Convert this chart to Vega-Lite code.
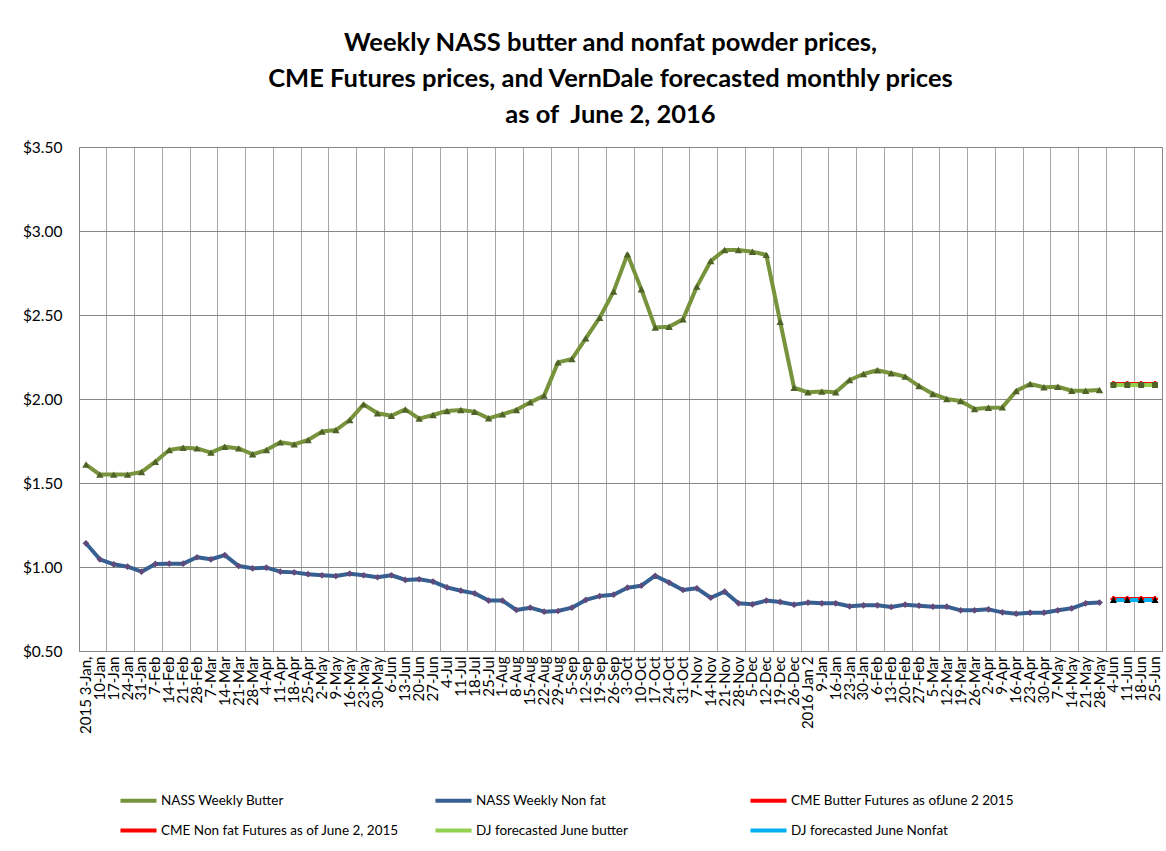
{
  "$schema": "https://vega.github.io/schema/vega-lite/v6.json",
  "width": 1083,
  "height": 504,
  "autosize": {"type": "none"},
  "padding": {"left": 79, "top": 147, "right": 4, "bottom": 200},
  "background": "white",
  "title": {
    "text": ["Weekly NASS butter and nonfat powder prices,", "CME Futures prices, and VernDale forecasted monthly prices", "as of\u00a0 June 2, 2016"],
    "font": "Lato", "fontSize": 25.5, "fontWeight": "bold", "lineHeight": 36, "color": "black", "anchor": "middle", "offset": 12, "dx": -10
  },
  "data": {"values": [
    {"week": "2015 3-Jan,", "NASS Weekly Butter": 1.61, "NASS Weekly Non fat": 1.141},
    {"week": "10-Jan", "NASS Weekly Butter": 1.55, "NASS Weekly Non fat": 1.046},
    {"week": "17-Jan", "NASS Weekly Butter": 1.55, "NASS Weekly Non fat": 1.016},
    {"week": "24-Jan", "NASS Weekly Butter": 1.55, "NASS Weekly Non fat": 1.002},
    {"week": "31-Jan", "NASS Weekly Butter": 1.565, "NASS Weekly Non fat": 0.972},
    {"week": "7-Feb", "NASS Weekly Butter": 1.627, "NASS Weekly Non fat": 1.018},
    {"week": "14-Feb", "NASS Weekly Butter": 1.696, "NASS Weekly Non fat": 1.02},
    {"week": "21-Feb", "NASS Weekly Butter": 1.71, "NASS Weekly Non fat": 1.02},
    {"week": "28-Feb", "NASS Weekly Butter": 1.706, "NASS Weekly Non fat": 1.058},
    {"week": "7-Mar", "NASS Weekly Butter": 1.681, "NASS Weekly Non fat": 1.046},
    {"week": "14-Mar", "NASS Weekly Butter": 1.716, "NASS Weekly Non fat": 1.071},
    {"week": "21-Mar", "NASS Weekly Butter": 1.706, "NASS Weekly Non fat": 1.006},
    {"week": "28-Mar", "NASS Weekly Butter": 1.671, "NASS Weekly Non fat": 0.992},
    {"week": "4-Apr", "NASS Weekly Butter": 1.696, "NASS Weekly Non fat": 0.996},
    {"week": "11-Apr", "NASS Weekly Butter": 1.742, "NASS Weekly Non fat": 0.972},
    {"week": "18-Apr", "NASS Weekly Butter": 1.73, "NASS Weekly Non fat": 0.968},
    {"week": "25-Apr", "NASS Weekly Butter": 1.756, "NASS Weekly Non fat": 0.957},
    {"week": "2-May", "NASS Weekly Butter": 1.806, "NASS Weekly Non fat": 0.951},
    {"week": "9-May", "NASS Weekly Butter": 1.815, "NASS Weekly Non fat": 0.946},
    {"week": "16-May", "NASS Weekly Butter": 1.875, "NASS Weekly Non fat": 0.96},
    {"week": "23-May", "NASS Weekly Butter": 1.968, "NASS Weekly Non fat": 0.951},
    {"week": "30-May", "NASS Weekly Butter": 1.915, "NASS Weekly Non fat": 0.939},
    {"week": "6-Jun", "NASS Weekly Butter": 1.9, "NASS Weekly Non fat": 0.951},
    {"week": "13-Jun", "NASS Weekly Butter": 1.938, "NASS Weekly Non fat": 0.923},
    {"week": "20-Jun", "NASS Weekly Butter": 1.883, "NASS Weekly Non fat": 0.927},
    {"week": "27-Jun", "NASS Weekly Butter": 1.905, "NASS Weekly Non fat": 0.913},
    {"week": "4-Jul", "NASS Weekly Butter": 1.929, "NASS Weekly Non fat": 0.879},
    {"week": "11-Jul", "NASS Weekly Butter": 1.935, "NASS Weekly Non fat": 0.859},
    {"week": "18-Jul", "NASS Weekly Butter": 1.924, "NASS Weekly Non fat": 0.843},
    {"week": "25-Jul", "NASS Weekly Butter": 1.885, "NASS Weekly Non fat": 0.8},
    {"week": "1-Aug", "NASS Weekly Butter": 1.909, "NASS Weekly Non fat": 0.8},
    {"week": "8-Aug", "NASS Weekly Butter": 1.935, "NASS Weekly Non fat": 0.744},
    {"week": "15-Aug", "NASS Weekly Butter": 1.98, "NASS Weekly Non fat": 0.758},
    {"week": "22-Aug", "NASS Weekly Butter": 2.02, "NASS Weekly Non fat": 0.734},
    {"week": "29-Aug", "NASS Weekly Butter": 2.218, "NASS Weekly Non fat": 0.738},
    {"week": "5-Sep", "NASS Weekly Butter": 2.238, "NASS Weekly Non fat": 0.758},
    {"week": "12-Sep", "NASS Weekly Butter": 2.361, "NASS Weekly Non fat": 0.804},
    {"week": "19-Sep", "NASS Weekly Butter": 2.484, "NASS Weekly Non fat": 0.827},
    {"week": "26-Sep", "NASS Weekly Butter": 2.639, "NASS Weekly Non fat": 0.835},
    {"week": "3-Oct", "NASS Weekly Butter": 2.861, "NASS Weekly Non fat": 0.877},
    {"week": "10-Oct", "NASS Weekly Butter": 2.653, "NASS Weekly Non fat": 0.889},
    {"week": "17-Oct", "NASS Weekly Butter": 2.425, "NASS Weekly Non fat": 0.948},
    {"week": "24-Oct", "NASS Weekly Butter": 2.43, "NASS Weekly Non fat": 0.907},
    {"week": "31-Oct", "NASS Weekly Butter": 2.474, "NASS Weekly Non fat": 0.863},
    {"week": "7-Nov", "NASS Weekly Butter": 2.669, "NASS Weekly Non fat": 0.873},
    {"week": "14-Nov", "NASS Weekly Butter": 2.821, "NASS Weekly Non fat": 0.817},
    {"week": "21-Nov", "NASS Weekly Butter": 2.887, "NASS Weekly Non fat": 0.853},
    {"week": "28-Nov", "NASS Weekly Butter": 2.887, "NASS Weekly Non fat": 0.784},
    {"week": "5-Dec", "NASS Weekly Butter": 2.877, "NASS Weekly Non fat": 0.778},
    {"week": "12-Dec", "NASS Weekly Butter": 2.858, "NASS Weekly Non fat": 0.8},
    {"week": "19-Dec", "NASS Weekly Butter": 2.46, "NASS Weekly Non fat": 0.792},
    {"week": "26-Dec", "NASS Weekly Butter": 2.067, "NASS Weekly Non fat": 0.776},
    {"week": "2016 Jan 2", "NASS Weekly Butter": 2.04, "NASS Weekly Non fat": 0.788},
    {"week": "9-Jan", "NASS Weekly Butter": 2.044, "NASS Weekly Non fat": 0.784},
    {"week": "16-Jan", "NASS Weekly Butter": 2.04, "NASS Weekly Non fat": 0.784},
    {"week": "23-Jan", "NASS Weekly Butter": 2.113, "NASS Weekly Non fat": 0.766},
    {"week": "30-Jan", "NASS Weekly Butter": 2.149, "NASS Weekly Non fat": 0.772},
    {"week": "6-Feb", "NASS Weekly Butter": 2.171, "NASS Weekly Non fat": 0.772},
    {"week": "13-Feb", "NASS Weekly Butter": 2.153, "NASS Weekly Non fat": 0.762},
    {"week": "20-Feb", "NASS Weekly Butter": 2.133, "NASS Weekly Non fat": 0.776},
    {"week": "27-Feb", "NASS Weekly Butter": 2.077, "NASS Weekly Non fat": 0.77},
    {"week": "5-Mar", "NASS Weekly Butter": 2.03, "NASS Weekly Non fat": 0.764},
    {"week": "12-Mar", "NASS Weekly Butter": 2.0, "NASS Weekly Non fat": 0.764},
    {"week": "19-Mar", "NASS Weekly Butter": 1.988, "NASS Weekly Non fat": 0.742},
    {"week": "26-Mar", "NASS Weekly Butter": 1.94, "NASS Weekly Non fat": 0.742},
    {"week": "2-Apr", "NASS Weekly Butter": 1.948, "NASS Weekly Non fat": 0.748},
    {"week": "9-Apr", "NASS Weekly Butter": 1.95, "NASS Weekly Non fat": 0.73},
    {"week": "16-Apr", "NASS Weekly Butter": 2.048, "NASS Weekly Non fat": 0.722},
    {"week": "23-Apr", "NASS Weekly Butter": 2.089, "NASS Weekly Non fat": 0.728},
    {"week": "30-Apr", "NASS Weekly Butter": 2.07, "NASS Weekly Non fat": 0.728},
    {"week": "7-May", "NASS Weekly Butter": 2.073, "NASS Weekly Non fat": 0.742},
    {"week": "14-May", "NASS Weekly Butter": 2.049, "NASS Weekly Non fat": 0.754},
    {"week": "21-May", "NASS Weekly Butter": 2.049, "NASS Weekly Non fat": 0.784},
    {"week": "28-May", "NASS Weekly Butter": 2.054, "NASS Weekly Non fat": 0.788},
    {"week": "4-Jun", "CME  Butter Futures as ofJune 2 2015": 2.09, "CME Non fat  Futures as of June 2, 2015": 0.81, "DJ forecasted June butter": 2.083, "DJ forecasted June Nonfat": 0.804},
    {"week": "11-Jun", "CME  Butter Futures as ofJune 2 2015": 2.09, "CME Non fat  Futures as of June 2, 2015": 0.81, "DJ forecasted June butter": 2.083, "DJ forecasted June Nonfat": 0.804},
    {"week": "18-Jun", "CME  Butter Futures as ofJune 2 2015": 2.09, "CME Non fat  Futures as of June 2, 2015": 0.81, "DJ forecasted June butter": 2.083, "DJ forecasted June Nonfat": 0.804},
    {"week": "25-Jun", "CME  Butter Futures as ofJune 2 2015": 2.09, "CME Non fat  Futures as of June 2, 2015": 0.81, "DJ forecasted June butter": 2.083, "DJ forecasted June Nonfat": 0.804}
  ]},
  "transform": [
    {"fold": ["NASS Weekly Butter", "NASS Weekly Non fat", "CME  Butter Futures as ofJune 2 2015", "CME Non fat  Futures as of June 2, 2015", "DJ forecasted June butter", "DJ forecasted June Nonfat"], "as": ["series", "price"]},
    {"filter": "isValid(datum.price)"}
  ],
  "encoding": {
    "x": {
      "field": "week", "type": "ordinal", "sort": null, "bandPosition": 0.5,
      "scale": {"type": "band", "paddingInner": 0, "paddingOuter": 0},
      "axis": null
    },
    "y": {"field": "price", "type": "quantitative", "scale": {"domain": [0.5, 3.5], "nice": false, "zero": false}, "axis": null}
  },
  "layer": [
    {
      "mark": {"type": "line", "strokeJoin": "round"},
      "encoding": {
        "x": {
          "field": "week", "type": "ordinal", "sort": null, "bandPosition": 0.5,
          "scale": {"type": "band", "paddingInner": 0, "paddingOuter": 0},
          "axis": {
            "orient": "bottom",
            "values": ["17-Jan", "31-Jan", "14-Feb", "28-Feb", "14-Mar", "28-Mar", "11-Apr", "25-Apr", "9-May", "23-May", "6-Jun", "20-Jun", "4-Jul", "18-Jul", "1-Aug", "15-Aug", "29-Aug", "12-Sep", "26-Sep", "10-Oct", "24-Oct", "7-Nov", "21-Nov", "5-Dec", "19-Dec", "2016 Jan 2", "16-Jan", "30-Jan", "13-Feb", "27-Feb", "12-Mar", "26-Mar", "9-Apr", "23-Apr", "7-May", "21-May", "4-Jun", "18-Jun"],
            "bandPosition": 0, "grid": true, "gridColor": "#A6A6A6", "gridWidth": 1,
            "labels": false, "ticks": false, "domain": false, "title": null
          }
        },
        "y": {
          "field": "price", "type": "quantitative",
          "scale": {"domain": [0.5, 3.5], "nice": false, "zero": false},
          "axis": {
            "orient": "left",
            "values": [0.5, 1, 1.5, 2, 2.5, 3, 3.5], "format": "$.2f",
            "grid": true, "gridColor": "#868686", "gridWidth": 1,
            "ticks": false, "domain": false, "title": null,
            "labelFont": "Lato", "labelFontSize": 15.5, "labelColor": "black", "labelPadding": 17
          }
        },
        "color": {
          "field": "series", "type": "nominal",
          "scale": {
            "domain": ["NASS Weekly Butter", "NASS Weekly Non fat", "CME  Butter Futures as ofJune 2 2015", "CME Non fat  Futures as of June 2, 2015", "DJ forecasted June butter", "DJ forecasted June Nonfat"],
            "range": ["#77933C", "#376092", "#FF0000", "#FF0000", "#92D050", "#00B0F0"]
          },
          "legend": {
            "orient": "none", "legendX": 39, "legendY": 633, "direction": "horizontal",
            "columns": 3, "gridAlign": "all", "columnPadding": 24, "rowPadding": 1,
            "symbolType": "stroke", "symbolSize": 1300, "symbolStrokeWidth": 4,
            "labelFont": "Lato", "labelFontSize": 13.5, "labelColor": "black", "labelLimit": 400,
            "labelOffset": 2, "title": null, "padding": 0
          }
        },
        "strokeWidth": {
          "field": "series", "type": "nominal",
          "scale": {
            "domain": ["NASS Weekly Butter", "NASS Weekly Non fat", "CME  Butter Futures as ofJune 2 2015", "CME Non fat  Futures as of June 2, 2015", "DJ forecasted June butter", "DJ forecasted June Nonfat"],
            "range": [4, 4, 3, 1.5, 4, 4]
          },
          "legend": null
        }
      }
    },
    {
      "transform": [{"filter": "datum.series == 'DJ forecasted June butter' || datum.series == 'DJ forecasted June Nonfat'"}],
      "mark": {"type": "line", "strokeJoin": "round", "strokeWidth": 4},
      "encoding": {
        "color": {"field": "series", "type": "nominal"}
      }
    },
    {
      "transform": [{"filter": "datum.series == 'NASS Weekly Butter'"}],
      "mark": {"type": "point", "filled": true, "size": 55, "opacity": 1, "shape": "triangle-up", "fill": "#4F6228"},
      "encoding": {
        "x": {
          "field": "week", "type": "ordinal", "sort": null, "bandPosition": 0.5,
          "scale": {"type": "band", "paddingInner": 0, "paddingOuter": 0},
          "axis": {
            "orient": "bottom",
            "grid": false, "labelAngle": 270, "labelFont": "Lato", "labelFontSize": 15,
            "labelColor": "black", "labelPadding": 5, "ticks": false, "domain": false,
            "title": null, "labelOverlap": false, "bandPosition": 0.5
          }
        }
      }
    },
    {
      "transform": [{"filter": "datum.series == 'NASS Weekly Non fat'"}],
      "mark": {"type": "point", "filled": true, "size": 45, "opacity": 1, "shape": "diamond", "fill": "#604A7B"}
    },
    {
      "transform": [{"filter": "datum.series == 'CME  Butter Futures as ofJune 2 2015' || datum.series == 'CME Non fat  Futures as of June 2, 2015'"}],
      "mark": {"type": "point", "filled": true, "size": 35, "opacity": 1, "shape": "cross", "fill": "#FF0000"}
    },
    {
      "transform": [{"filter": "datum.series == 'DJ forecasted June butter'"}],
      "mark": {"type": "point", "filled": true, "size": 35, "opacity": 1, "shape": "square", "fill": "#4F6228"}
    },
    {
      "transform": [{"filter": "datum.series == 'DJ forecasted June Nonfat'"}],
      "mark": {"type": "point", "filled": true, "size": 50, "opacity": 1, "shape": "triangle-up", "fill": "#000000"}
    }
  ],
  "resolve": {"axis": {"x": "independent", "y": "independent"}},
  "config": {
    "view": {"stroke": "#868686", "strokeWidth": 1},
    "font": "Lato"
  }
}
